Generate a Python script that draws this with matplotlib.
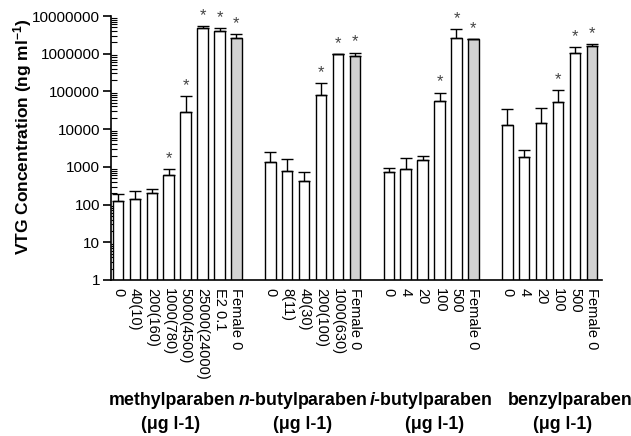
import numpy as np
import matplotlib
matplotlib.use("Agg")
import matplotlib.pyplot as plt

plt.rcParams['font.family'] = ['Liberation Sans', 'DejaVu Sans']
plt.rcParams['mathtext.fontset'] = 'custom'
plt.rcParams['mathtext.rm'] = 'Liberation Sans:bold'
plt.rcParams['mathtext.bf'] = 'Liberation Sans:bold'
plt.rcParams['mathtext.it'] = 'Liberation Sans:italic:bold'

# group names (two lines each)
group_names = ['methylparaben', r'$\mathit{n}$-butylparaben',
               r'$\mathit{i}$-butylparaben', 'benzylparaben']
unit_label = '(\u03bcg l-1)'

# tick labels per group
methyl_labels = ['0', '40(10)', '200(160)', '1000(780)', '5000(4500)',
                 '25000(24000)', 'E2 0.1', 'Female 0']
nbutyl_labels = ['0', '8(11)', '40(30)', '200(100)', '1000(630)', 'Female 0']
ibutyl_labels = ['0', '4', '20', '100', '500', 'Female 0']
benzyl_labels = ['0', '4', '20', '100', '500', 'Female 0']

# mean VTG (ng/ml) and top of error bar
methyl_mean = [126, 140, 200, 600, 27900, 4.7e6, 4.0e6, 2.6e6]
methyl_upper = [190, 235, 257, 870, 77000, 5.5e6, 4.7e6, 3.3e6]
nbutyl_mean = [1320, 780, 430, 80000, 960000, 890000]
nbutyl_upper = [2500, 1580, 740, 163000, 1.0e6, 1.07e6]
ibutyl_mean = [710, 870, 1510, 55600, 2.58e6, 2.4e6]
ibutyl_upper = [960, 1740, 1950, 93000, 4.4e6, 2.5e6]
benzyl_mean = [12900, 1860, 14800, 53500, 1.02e6, 1.6e6]
benzyl_upper = [34000, 2800, 37000, 110000, 1.54e6, 1.78e6]

# significance marks
methyl_star = [0, 0, 0, 1, 1, 1, 1, 1]
nbutyl_star = [0, 0, 0, 1, 1, 1]
ibutyl_star = [0, 0, 0, 1, 1, 1]
benzyl_star = [0, 0, 0, 1, 1, 1]

ytick_vals = [1, 10, 100, 1000, 10000, 100000, 1000000, 10000000]
ytick_labels = ['1', '10', '100', '1000', '10000', '100000', '1000000', '10000000']

groups = [
    (methyl_labels, methyl_mean, methyl_upper, methyl_star),
    (nbutyl_labels, nbutyl_mean, nbutyl_upper, nbutyl_star),
    (ibutyl_labels, ibutyl_mean, ibutyl_upper, ibutyl_star),
    (benzyl_labels, benzyl_mean, benzyl_upper, benzyl_star),
]

fig = plt.figure(figsize=(6.31, 4.36), dpi=100)
ax = fig.add_axes([0.1759, 0.3578, 0.778, 0.6055])

all_x = []
all_labels = []
pos = 0
for labels, mean, upper, star in groups:
    x = np.arange(pos, pos + len(mean))
    mean = np.array(mean, dtype=float)
    upper = np.array(upper, dtype=float)
    colors = ['white'] * (len(mean) - 1) + ['#d2d2d2']
    ax.bar(x, mean, width=0.62, color=colors, edgecolor='black',
           linewidth=1.0, log=True, zorder=2)
    ax.errorbar(x, mean, yerr=[np.zeros_like(mean), upper - mean],
                fmt='none', ecolor='black', elinewidth=1.0,
                capsize=4.5, capthick=1.0, zorder=3)
    for xi, up, s in zip(x, upper, star):
        if s:
            ax.text(xi, up * 1.9, '*', ha='center', va='center',
                    fontsize=12, color='#444444')
    all_x.extend(x)
    all_labels.extend(labels)
    pos += len(mean) + 1

ax.set_yscale('log')
ax.set_ylim(1, 1e7)
ax.set_xlim(-0.41, 28.59)

ax.set_yticks(ytick_vals)
ax.set_yticklabels(ytick_labels, fontsize=11)
ax.yaxis.set_minor_locator(matplotlib.ticker.LogLocator(base=10, subs=np.arange(2, 10)))
ax.yaxis.set_minor_formatter(matplotlib.ticker.NullFormatter())
ax.tick_params(axis='y', which='major', direction='out', length=6, width=1.2, pad=2)
ax.tick_params(axis='y', which='minor', direction='in', length=4, width=0.8)

ax.set_xticks(all_x)
ax.set_xticklabels(all_labels, rotation=270, fontsize=10.5, va='top', ha='center')
ax.tick_params(axis='x', length=0, pad=6)

ax.spines['top'].set_visible(False)
ax.spines['right'].set_visible(False)
ax.spines['left'].set_linewidth(1.2)
ax.spines['bottom'].set_linewidth(1.2)

fig.text(0.035, 1 - 137 / 436, r'VTG Concentration (ng ml$^{-1}$)',
         rotation=90, fontsize=12.5, fontweight='bold', ha='center', va='center')

name_x = [172, 303, 431, 570]
unit_x = [171, 303, 435, 563]
for nm, nx, ux in zip(group_names, name_x, unit_x):
    fig.text(nx / 631, 1 - 400 / 436, nm, fontsize=12.8, fontweight='bold',
             ha='center', va='center')
    fig.text(ux / 631, 1 - 424 / 436, unit_label, fontsize=12.8,
             fontweight='bold', ha='center', va='center')

fig.savefig('out.png', dpi=100)
